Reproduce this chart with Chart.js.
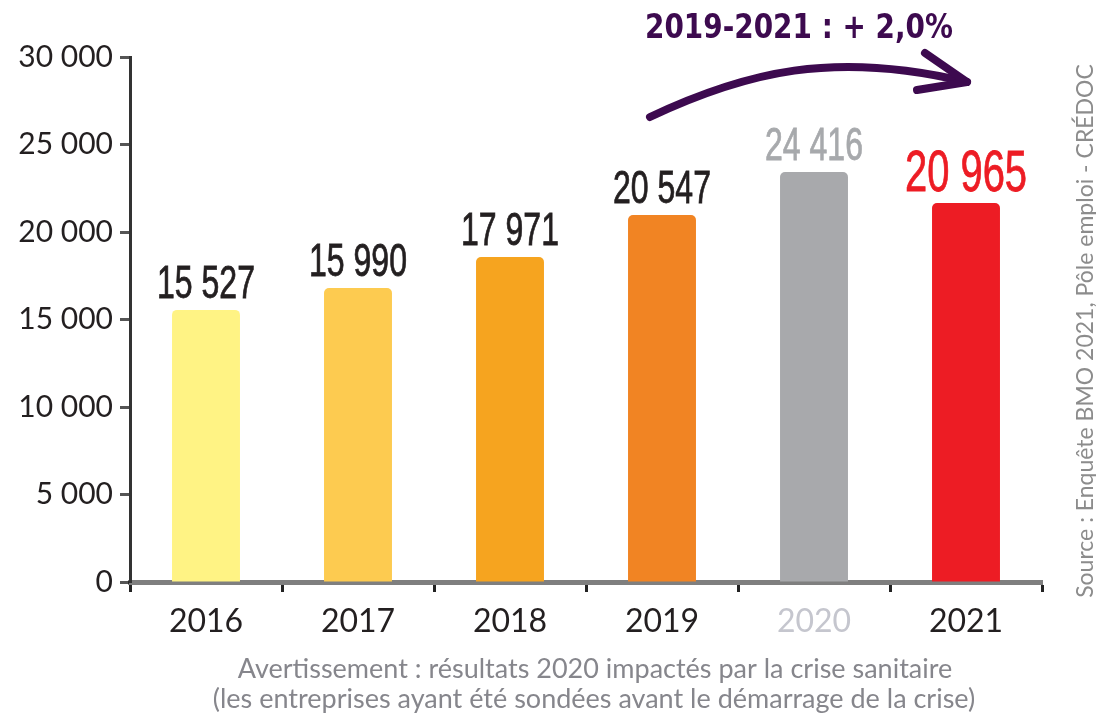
<!DOCTYPE html>
<html lang="fr">
<head>
<meta charset="utf-8">
<title>Projets de recrutement 2016-2021</title>
<script src="https://cdn.jsdelivr.net/npm/chart.js@4"></script>
<style>
  html, body { margin: 0; padding: 0; background: #fff; }
  #zone { width: 1096px; height: 717px; }
</style>
</head>
<body>
<div id="zone"><canvas id="graphique" width="1096" height="717"></canvas></div>
<script>
const annees = ['2016', '2017', '2018', '2019', '2020', '2021'];
// hauteur des barres telle que dessinee sur la figure
const projets = [15550, 16800, 18570, 20970, 23430, 21660];
// chiffres imprimes au-dessus des barres
const etiquettes = ['15 527', '15 990', '17 971', '20 547', '24 416', '20 965'];
const graduations = [0, 5000, 10000, 15000, 20000, 25000, 30000];
const titreEvolution = '2019-2021 : + 2,0%';
const avertissement = [
  'Avertissement : résultats 2020 impactés par la crise sanitaire',
  '(les entreprises ayant été sondées avant le démarrage de la crise)'
];
const source = 'Source : Enquête BMO 2021, Pôle emploi - CRÉDOC';

const couleursBarres = ['#FFF384', '#FDCB50', '#F6A41F', '#F18423', '#A8A9AC', '#ED1C24'];
const couleursValeurs = ['#231F20', '#231F20', '#231F20', '#231F20', '#A7A9AC', '#ED1C24'];
const couleursAnnees = ['#231F20', '#231F20', '#231F20', '#231F20', '#C5C6CE', '#231F20'];

function milliers(v) {
  return String(v).replace(/\B(?=(\d{3})+(?!\d))/g, ' ');
}

const etiquettesBarres = {
  id: 'etiquettesBarres',
  afterDatasetsDraw(chart) {
    const ctx = chart.ctx;
    const barres = chart.getDatasetMeta(0).data;
    ctx.save();
    ctx.textAlign = 'center';
    ctx.textBaseline = 'alphabetic';
    ctx.lineWidth = 0.8;
    barres.forEach(function (b, i) {
      const grand = i === barres.length - 1;
      const larg = grand ? 122 : 98;
      ctx.font = (grand ? '57px' : '46px') + " 'Liberation Sans Narrow', 'Liberation Sans', sans-serif";
      ctx.fillStyle = couleursValeurs[i];
      ctx.strokeStyle = couleursValeurs[i];
      ctx.fillText(etiquettes[i], b.x, b.y - 12, larg);
      ctx.strokeText(etiquettes[i], b.x, b.y - 12, larg);
    });
    ctx.restore();
  }
};

const decor = {
  id: 'decor',
  afterDraw(chart) {
    const ctx = chart.ctx;
    const x = chart.scales.x;
    const haut = chart.chartArea.top;
    ctx.save();

    // fleche 2019 -> 2021
    const x0 = x.getPixelForValue(3) - 12;
    const x1 = x.getPixelForValue(5) + 1;
    const l = x1 - x0;
    ctx.strokeStyle = '#3D0A4F';
    ctx.lineWidth = 8;
    ctx.lineCap = 'round';
    ctx.lineJoin = 'round';
    ctx.beginPath();
    ctx.moveTo(x0, haut + 60);
    ctx.bezierCurveTo(x0 + 0.3 * l, haut + 15, x0 + 0.58 * l, haut - 7, x1, haut + 25);
    ctx.stroke();
    ctx.beginPath();
    ctx.moveTo(x1 - 42, haut - 4);
    ctx.lineTo(x1, haut + 25);
    ctx.lineTo(x1 - 50, haut + 33);
    ctx.stroke();

    ctx.fillStyle = '#3D0A4F';
    ctx.font = "bold 33px 'DejaVu Sans', sans-serif";
    ctx.textAlign = 'center';
    ctx.textBaseline = 'alphabetic';
    ctx.fillText(titreEvolution, 799, 38, 308);

    // avertissement sous l'axe
    ctx.fillStyle = '#86868C';
    ctx.font = "27px Lato, sans-serif";
    ctx.fillText(avertissement[0], 595, 678, 720);
    ctx.fillText(avertissement[1], 594, 708, 764);

    // source verticale
    ctx.translate(1086, 331);
    ctx.rotate(-Math.PI / 2);
    ctx.textBaseline = 'middle';
    ctx.fillStyle = '#8C8C8C';
    ctx.font = "23px Lato, sans-serif";
    ctx.fillText(source, 0, 0, 548);
    ctx.restore();
  }
};

const ctx = document.getElementById('graphique').getContext('2d');
const graphique = new Chart(ctx, {
  type: 'bar',
  data: {
    labels: annees,
    datasets: [{
      label: 'Projets de recrutement',
      data: projets,
      backgroundColor: couleursBarres,
      borderWidth: 0,
      borderRadius: { topLeft: 5, topRight: 5 },
      borderSkipped: 'bottom',
      categoryPercentage: 1,
      barPercentage: 0.447
    }]
  },
  options: {
    responsive: false,
    animation: false,
    layout: { padding: { top: 57, right: 54, left: 0, bottom: 0 } },
    plugins: {
      legend: { display: false },
      tooltip: { enabled: false }
    },
    scales: {
      x: {
        z: 1,
        offset: true,
        afterFit: function (s) { s.height = 135; },
        grid: {
          offset: true,
          drawOnChartArea: false,
          drawTicks: true,
          tickLength: 10,
          tickWidth: 3,
          tickColor: '#222'
        },
        border: { display: true, color: 'rgba(0,0,0,0.5)', width: 5 },
        ticks: {
          padding: 10,
          color: couleursAnnees,
          font: { family: 'Lato', size: 32 }
        }
      },
      y: {
        min: 0,
        max: 30000,
        afterFit: function (s) { s.width = 130; },
        afterBuildTicks: function (s) {
          s.ticks = graduations.map(function (v) { return { value: v }; });
        },
        grid: {
          drawOnChartArea: false,
          drawTicks: true,
          tickLength: 10,
          tickWidth: 3,
          tickColor: '#555'
        },
        border: { display: true, color: '#333', width: 3 },
        ticks: {
          padding: 7,
          color: '#231F20',
          font: { family: 'Lato', size: 30 },
          callback: function (v) { return milliers(v); }
        }
      }
    }
  },
  plugins: [etiquettesBarres, decor]
});
</script>
</body>
</html>
